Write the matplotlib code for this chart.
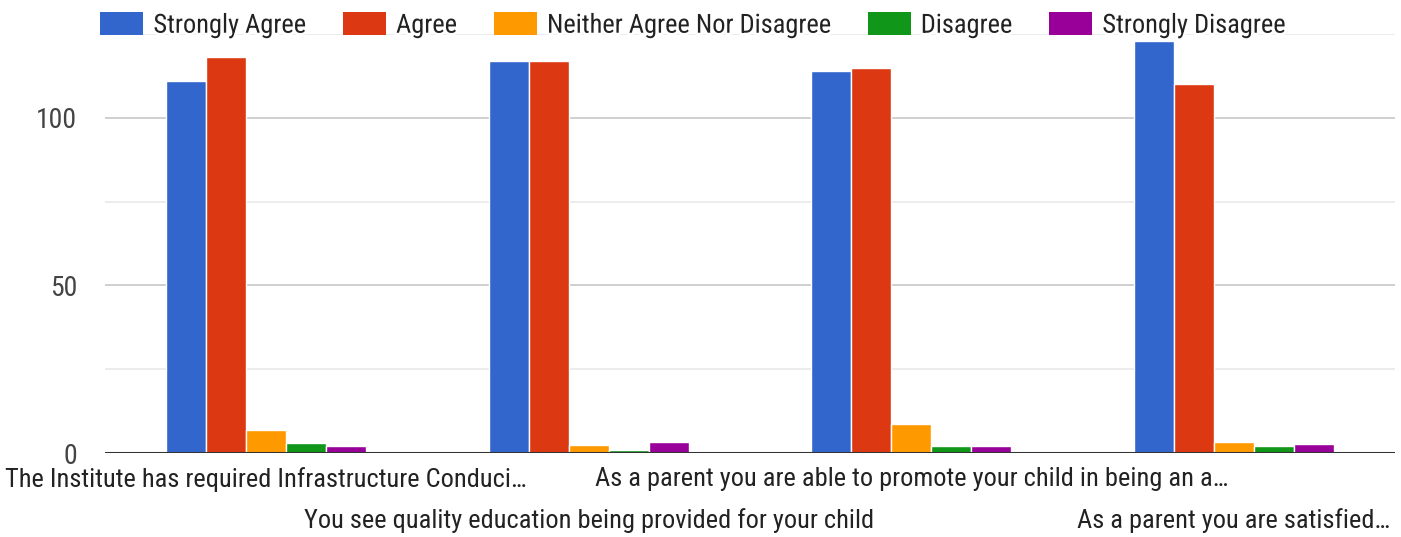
import numpy as np
import matplotlib
matplotlib.use("Agg")
import matplotlib.pyplot as plt
import matplotlib.patheffects as pe
from matplotlib.patches import Patch
from matplotlib import font_manager

# pick a narrow sans (Arial Narrow look), fall back to Liberation Sans
available = {f.name for f in font_manager.fontManager.ttflist}
narrow = [f for f in ['Liberation Sans Narrow', 'Arial Narrow', 'Roboto Condensed',
                      'Archivo Narrow', 'PT Sans Narrow', 'Barlow Semi Condensed']
          if f in available]
plt.rcParams['font.family'] = narrow[:1] + ['Liberation Sans', 'DejaVu Sans']

# Survey questions (labels as truncated in the chart)
questions = [
    "The Institute has required Infrastructure Conduci\u2026",
    "You see quality education being provided for your child",
    "As a parent you are able to promote your child in being an a\u2026",
    "As a parent you are satisfied\u2026",
]

# Response counts per question
strongly_agree = [111, 117, 114, 123]
agree = [118, 117, 115, 110]
neither = [7, 2.5, 8.6, 3.3]
disagree = [3, 1, 2, 2]
strongly_disagree = [2, 3.3, 2, 2.6]

series_names = ["Strongly Agree", "Agree", "Neither Agree Nor Disagree",
                "Disagree", "Strongly Disagree"]
series_values = [strongly_agree, agree, neither, disagree, strongly_disagree]
colors = ["#3366cc", "#dc3912", "#ff9900", "#109618", "#990099"]

fig = plt.figure(figsize=(14.01, 5.37), dpi=100)
ax = fig.add_axes([105 / 1401, 84 / 537, 1290 / 1401, 419 / 537])

x = np.arange(len(questions))
bar_w = 0.124
for i, (vals, c) in enumerate(zip(series_values, colors)):
    offset = (i - 2) * bar_w
    ax.bar(x + offset, vals, width=bar_w, color=c, edgecolor="white",
           linewidth=1.0, zorder=3)

ax.set_xlim(-0.5, len(questions) - 0.5)
ax.set_ylim(0, 125)

# gridlines
ax.set_yticks([0, 50, 100])
ax.set_yticks([25, 75, 125], minor=True)
ax.grid(axis="y", which="major", color="#cccccc", linewidth=1.3, zorder=0)
ax.grid(axis="y", which="minor", color="#ebebeb", linewidth=1.3, zorder=0)
ax.axhline(0, color="#333333", linewidth=2.2, zorder=4)

ax.tick_params(axis="y", which="both", length=0, labelsize=20,
               labelcolor="#444444", pad=20)
ax.tick_params(axis="x", length=0, labelsize=19, labelcolor="#222222")
ax.set_xticks(x)
ax.set_xticklabels(questions)
for i, t in enumerate(ax.xaxis.get_major_ticks()):
    t.set_pad(10 if i % 2 == 0 else 40)

for s in ax.spines.values():
    s.set_visible(False)

handles = [Patch(facecolor=c, edgecolor="none") for c in colors]
leg = fig.legend(handles, series_names, loc="center",
                 bbox_to_anchor=(693 / 1401, 1 - 25 / 537), ncol=5,
                 frameon=False, fontsize=19, handlelength=1.63,
                 handleheight=0.95, handletextpad=0.38, columnspacing=1.4,
                 borderaxespad=0)
for t in leg.get_texts():
    t.set_color("#222222")
    t.set_path_effects([pe.withStroke(linewidth=4, foreground="white")])

fig.savefig("out.png", dpi=100)
